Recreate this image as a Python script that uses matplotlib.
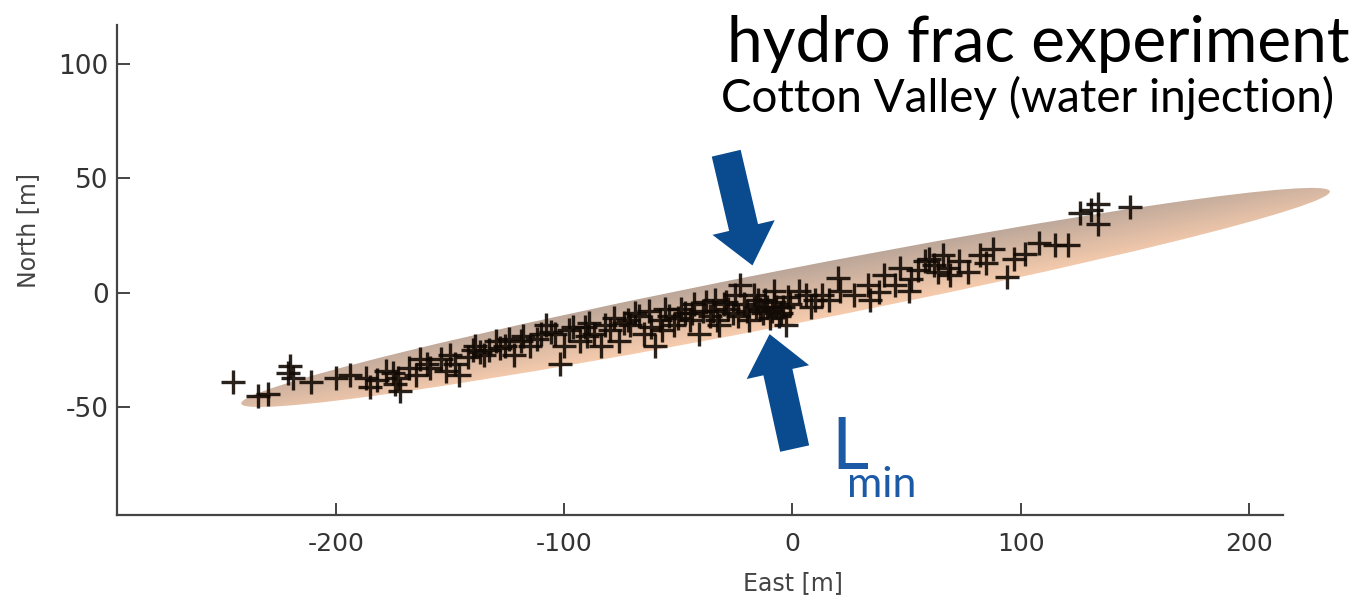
import numpy as np
import matplotlib.pyplot as plt
from matplotlib.patches import Ellipse, FancyArrow

plt.rcParams['axes.unicode_minus'] = False

# Microseismic events (East, North) in m
east = [-245, -234, -230, -220, -221, -219, -211, -200, -194, -187, -185, -182,
        -175, -174, -173, -172, -168, -165, -163, -159, -154, -152, -148, -146,
        -142, -139, -137, -133, -130, -126, -122, -119, -115, -108, -104, -102,
        -100, -98, -93, -89, -87, -84, -80, -78, -76, -71, -67, -65, -60, -58,
        -56, -52, -49, -45, -43, -41, -36, -34, -32, -28, -23, -21, -19, -17,
        -14, -12, -10, -8, -3, -1, 3, 10, 16, 20, 21, 27, 33, 34, 38, 40, 45,
        47, 51, 55, 58, 62, 66, 69, 73, 77, 82, 88, 94, 97, 108, 115, 121, 126,
        131, 134, 134, 148,
        -178, -160, -150, -140, -128, -118, -112, -106, -96, -90, -82, -74,
        -69, -62, -54, -47, -39, -30, -26, -16, -8, -5, -2, 6, -135, -124,
        -110, -91, -72, -63, -50, -38, -25, -11, 8, 13, 60, 64, 85, 102,
        -57, -44, -35, -29, -20, -15, -9, -6, -4, -33, -24, -13, -7, 52, 68]
north = [-39, -45, -44, -32, -35, -37, -39, -37, -36, -37, -41, -38,
         -35, -40, -37, -43, -33, -36, -29, -33, -29, -34, -31, -36,
         -28, -23, -26, -25, -21, -23, -27, -21, -23, -14, -18, -31,
         -23, -16, -21, -13, -18, -23, -16, -11, -21, -14, -10, -18, -23, -12,
         -7, -14, -7, -12, -5, -18, -10, -3, -14, -7, 3.5, -5, -12, -1,
         -7, -3, -11, 1, -14, -5, 1, -3, -3, 6.5, 1, -1, 3.5, -3, 0.5, 8, 3.5,
         11, 1, 10, 14, 12, 16.5, 8, 14, 9, 16.5, 19, 7, 15, 22, 21, 21, 35,
         36, 30, 39, 37.5,
         -34, -31, -27, -25, -24, -19, -20, -17, -15, -19, -14, -13,
         -9, -15, -10, -9, -8, -5, -9, -6, -4, -9, -2, -1, -27, -20,
         -18, -15, -12, -8, -11, -4, -1, -6, -6, -1, 15, 9, 13, 17,
         -16, -9, -8, -4, -8, -3, -8, -10, -6, -12, -10, -9, -6, 6, 11]

# fracture ellipse
ell_center = (-3, -2)
ell_length = 486
ell_width = 24
ell_angle = 11.0

xticks = [-200, -100, 0, 100, 200]
yticks = [-50, 0, 50, 100]

fig = plt.figure(figsize=(13.63, 6.07), dpi=100)
ax = fig.add_axes([0.0858, 0.1516, 0.8555, 0.8072])
ax.set_xlim(-296, 215)
ax.set_ylim(-97, 117)

# gradient fill clipped to ellipse
th = np.deg2rad(ell_angle)
gx = np.linspace(-260, 260, 700)
gy = np.linspace(-70, 70, 220)
GX, GY = np.meshgrid(gx, gy)
v = (-(GX - ell_center[0]) * np.sin(th) + (GY - ell_center[1]) * np.cos(th)) / (ell_width / 2)
t = np.clip((v + 1) / 2, 0, 1)[..., None]
top = np.array([0.73, 0.65, 0.60])
bot = np.array([0.97, 0.80, 0.68])
img = bot * (1 - t) + top * t
ell = Ellipse(ell_center, ell_length, ell_width, angle=ell_angle,
              facecolor='none', edgecolor='none', clip_on=False)
ax.add_patch(ell)
im = ax.imshow(img, extent=(gx[0], gx[-1], gy[0], gy[-1]), origin='lower',
               aspect='auto', zorder=1)
im.set_clip_path(ell)
im.set_clip_box(fig.bbox)
ax.set_xlim(-296, 215)
ax.set_ylim(-97, 117)

ax.plot(east, north, '+', color='#120a04', markersize=17, mew=2.4, alpha=0.9, zorder=3)

# arrows showing the minimum width
blue = '#0a4a8e'
ax.add_patch(FancyArrow(-29, 61, 11.5, -49, width=13, head_width=28,
                        head_length=17, length_includes_head=True,
                        color=blue, lw=0, zorder=4))
ax.add_patch(FancyArrow(1, -68, -11, 50, width=13, head_width=28,
                        head_length=17, length_includes_head=True,
                        color=blue, lw=0, zorder=4))
ax.text(17, -77, 'L', color='#1d5aa6', fontsize=52, family='Lato', zorder=5)
ax.text(24, -89, 'min', color='#1d5aa6', fontsize=31, family='Lato', zorder=5)

for s in ['top', 'right']:
    ax.spines[s].set_visible(False)
for s in ['left', 'bottom']:
    ax.spines[s].set_color('#444444')
    ax.spines[s].set_linewidth(1.6)
ax.set_xticks(xticks)
ax.set_yticks(yticks)
ax.tick_params(direction='in', length=9, width=1.4, color='#444444')
ax.tick_params(axis='x', labelsize=18, labelcolor='#333333', pad=12)
ax.tick_params(axis='y', labelsize=19, labelcolor='#333333', pad=6)
for lab in ax.get_xticklabels():
    lab.set_family(['Liberation Sans Narrow', 'DejaVu Sans'])

fig.text(0.0205, 0.62, 'North [m]', rotation=90, ha='center', va='center',
         fontsize=17, color='#444444')
fig.text(0.582, 0.04, 'East [m]', ha='center', va='center',
         fontsize=17, color='#444444',
         family=['Liberation Sans Narrow', 'DejaVu Sans'])

fig.text(0.990, 0.898, 'hydro frac experiment', ha='right', va='baseline',
         fontsize=46, family='Lato', color='black')
fig.text(0.979, 0.815, 'Cotton Valley (water injection)', ha='right', va='baseline',
         fontsize=33, family='Lato', color='black')

fig.savefig('out.png', dpi=100)
